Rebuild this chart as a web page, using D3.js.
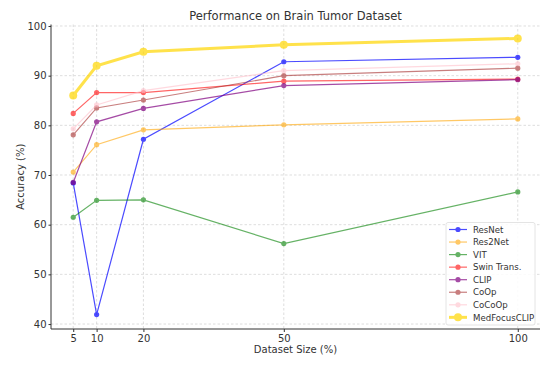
<!DOCTYPE html>
<html><head><meta charset="utf-8">
<script src="https://cdn.jsdelivr.net/npm/d3@7"></script>
<style>body{margin:0;background:#fff}svg{display:block;font-family:"DejaVu Sans",sans-serif}</style>
</head><body><svg id="c" width="548" height="370"></svg>
<script>
const sizes = [5, 10, 20, 50, 100];
const xTicks = [5, 10, 20, 50, 100];
const yTicks = [40, 50, 60, 70, 80, 90, 100];
const names = ["ResNet","Res2Net","VIT","Swin Trans.","CLIP","CoOp","CoCoOp","MedFocusCLIP"];
const resnet = [68.4, 41.9, 77.2, 92.8, 93.7];
const res2net = [70.6, 76.1, 79.1, 80.1, 81.3];
const vit = [61.5, 64.9, 65.0, 56.2, 66.6];
const swin = [82.4, 86.6, 86.6, 88.9, 89.3];
const clip = [68.5, 80.7, 83.4, 88.0, 89.2];
const coop = [78.1, 83.5, 85.1, 90.0, 91.5];
const cocoop = [79.3, 84.1, 87.0, 91.0, 92.4];
const medfocus = [86.0, 92.0, 94.8, 96.2, 97.5];
const seriesVals = [resnet, res2net, vit, swin, clip, coop, cocoop, medfocus];
const colors = ["blue","orange","green","red","purple","brown","pink","gold"];
const alphas = [0.7,0.6,0.6,0.6,0.7,0.6,0.6,0.7];
const widths = [1.2,1.2,1.2,1.2,1.2,1.2,1.2,3];
const radii = [2.6,2.6,2.6,2.6,2.6,2.6,2.6,4];

const svg = d3.select("#c");
const L = 51, R = 540, T = 24.5, B = 329;
const x = d3.scaleLinear().domain([0.25, 104.75]).range([L, R]);
const y = d3.scaleLinear().domain([39.0, 100.3]).range([B, T]);

// grid
const g = svg.append("g");
g.selectAll(".gx").data(xTicks).join("line").attr("x1",d=>x(d)).attr("x2",d=>x(d)).attr("y1",T).attr("y2",B)
 .attr("stroke","#d0d0d0").attr("stroke-width",0.7).attr("stroke-dasharray","2.5,2");
g.selectAll(".gy").data(yTicks).join("line").attr("y1",d=>y(d)).attr("y2",d=>y(d)).attr("x1",L).attr("x2",R)
 .attr("stroke","#d0d0d0").attr("stroke-width",0.7).attr("stroke-dasharray","2.5,2");

// axes
const xa = svg.append("g").attr("transform",`translate(0,${B})`).call(d3.axisBottom(x).tickValues(xTicks).tickSize(3).tickPadding(2.5));
const ya = svg.append("g").attr("transform",`translate(${L},0)`).call(d3.axisLeft(y).tickValues(yTicks).tickSize(2.5).tickPadding(2));
[xa, ya].forEach(a => {
  a.select(".domain").attr("stroke","#333").attr("stroke-width",1);
  a.selectAll(".tick line").attr("stroke","#333");
  a.selectAll("text").attr("fill","#333").attr("font-size","10px").attr("font-family","DejaVu Sans, sans-serif");
});
xa.select(".domain").attr("d",`M${L},0H${R}`);
ya.select(".domain").attr("d",`M0,${B}V${T}`);

// lines
const line = d3.line().x((d,i)=>x(sizes[i])).y(d=>y(d));
seriesVals.forEach((vals, k) => {
  const s = svg.append("g").attr("opacity", alphas[k]);
  s.append("path").datum(vals).attr("d", line).attr("fill","none").attr("stroke",colors[k]).attr("stroke-width",widths[k]);
  s.selectAll("circle").data(vals).join("circle").attr("cx",(d,i)=>x(sizes[i])).attr("cy",d=>y(d)).attr("r",radii[k]).attr("fill",colors[k]);
});

// title and labels
svg.append("text").attr("x",(L+R)/2).attr("y",20).attr("text-anchor","middle").attr("font-size","11.5px").attr("fill","#333").text("Performance on Brain Tumor Dataset");
svg.append("text").attr("x",(L+R)/2).attr("y",353).attr("text-anchor","middle").attr("font-size","10px").attr("fill","#333").text("Dataset Size (%)");
svg.append("text").attr("transform",`translate(24,${(T+B)/2}) rotate(-90)`).attr("text-anchor","middle").attr("font-size","10px").attr("fill","#333").text("Accuracy (%)");

// legend
const lg = svg.append("g");
lg.append("rect").attr("x",446).attr("y",222.5).attr("width",89).attr("height",102.5).attr("rx",2).attr("fill","white").attr("fill-opacity",0.85).attr("stroke","#ddd").attr("stroke-width",0.8);
names.forEach((n,k) => {
  const yy = 229.5 + k*12.55;
  const e = lg.append("g").attr("opacity", alphas[k]);
  e.append("line").attr("x1",449).attr("x2",467).attr("y1",yy).attr("y2",yy).attr("stroke",colors[k]).attr("stroke-width",widths[k]);
  e.append("circle").attr("cx",458).attr("cy",yy).attr("r",radii[k]).attr("fill",colors[k]);
  lg.append("text").attr("x",473).attr("y",yy+3.2).attr("font-size","8.6px").attr("fill","#333").text(n);
});
</script></body></html>
